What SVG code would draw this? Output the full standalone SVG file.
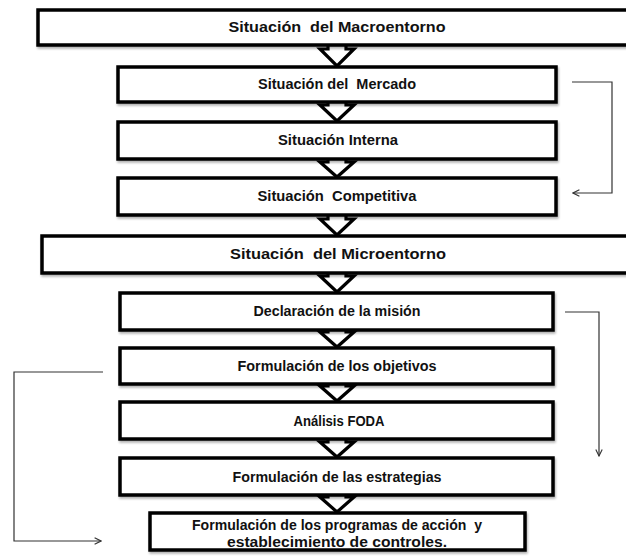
<svg xmlns="http://www.w3.org/2000/svg" width="626" height="558" viewBox="0 0 626 558">
<style>
.box{fill:#fff;stroke:#000;stroke-width:3.5}
.blk{fill:#fff;stroke:#000;stroke-width:3.2;stroke-linejoin:miter}
.t{font-family:"Liberation Sans",Arial,sans-serif;font-weight:bold;fill:#111;text-anchor:middle;white-space:pre}
.conn{fill:none;stroke:#333;stroke-width:1.2}
</style>
<defs>
<marker id="open" viewBox="0 0 10 10" refX="9" refY="5" markerWidth="8" markerHeight="8" orient="auto" markerUnits="userSpaceOnUse">
<path d="M1,1 L9,5 L1,9" fill="none" stroke="#333" stroke-width="1.4"/>
</marker>
<filter id="sh" x="-5%" y="-20%" width="110%" height="150%">
<feDropShadow dx="1" dy="2" stdDeviation="1" flood-color="#000" flood-opacity="0.3"/>
</filter>
</defs>
<rect width="626" height="558" fill="#fff"/>
<g id="flow-arrows">
<path class="blk" d="M328,40 V49 H320 L337,66 L354,49 H346 V40 Z"/>
<path class="blk" d="M328,97 V105 H320 L337,121 L354,105 H346 V97 Z"/>
<path class="blk" d="M328,155 V162 H320 L337,177 L354,162 H346 V155 Z"/>
<path class="blk" d="M328,211 V219 H320 L337,235 L354,219 H346 V211 Z"/>
<path class="blk" d="M328,268 V276 H320 L337,292 L354,276 H346 V268 Z"/>
<path class="blk" d="M328,325 V332 H320 L337,347 L354,332 H346 V325 Z"/>
<path class="blk" d="M328,379 V386 H320 L337,401 L354,386 H346 V379 Z"/>
<path class="blk" d="M328,435 V442 H320 L337,457 L354,442 H346 V435 Z"/>
<path class="blk" d="M328,490 V497 H320 L337,512 L354,497 H346 V490 Z"/>
</g>
<g id="n1"><rect class="box" x="38" y="10" width="600" height="35" filter="url(#sh)"/><text class="t" x="337" y="32" font-size="15.5" textLength="217" lengthAdjust="spacingAndGlyphs" xml:space="preserve">Situación  del Macroentorno</text></g>
<g id="n2"><rect class="box" x="118" y="67" width="438" height="35" filter="url(#sh)"/><text class="t" x="337" y="89" font-size="14" textLength="158" lengthAdjust="spacingAndGlyphs" xml:space="preserve">Situación del  Mercado</text></g>
<g id="n3"><rect class="box" x="118" y="122" width="438" height="37" filter="url(#sh)"/><text class="t" x="338" y="145" font-size="14" textLength="120" lengthAdjust="spacingAndGlyphs">Situación Interna</text></g>
<g id="n4"><rect class="box" x="118" y="178" width="438" height="37" filter="url(#sh)"/><text class="t" x="337" y="201" font-size="14" textLength="159" lengthAdjust="spacingAndGlyphs" xml:space="preserve">Situación  Competitiva</text></g>
<g id="n5"><rect class="box" x="42" y="236" width="600" height="37" filter="url(#sh)"/><text class="t" x="338" y="259" font-size="15.5" textLength="216" lengthAdjust="spacingAndGlyphs" xml:space="preserve">Situación  del Microentorno</text></g>
<g id="n6"><rect class="box" x="120" y="293" width="433" height="37" filter="url(#sh)"/><text class="t" x="337" y="316" font-size="14" textLength="167" lengthAdjust="spacingAndGlyphs">Declaración de la misión</text></g>
<g id="n7"><rect class="box" x="120" y="348" width="433" height="36" filter="url(#sh)"/><text class="t" x="337" y="371" font-size="14" textLength="199" lengthAdjust="spacingAndGlyphs">Formulación de los objetivos</text></g>
<g id="n8"><rect class="box" x="120" y="402" width="433" height="37" filter="url(#sh)"/><text class="t" x="339" y="426" font-size="14" textLength="91" lengthAdjust="spacingAndGlyphs">Análisis FODA</text></g>
<g id="n9"><rect class="box" x="120" y="458" width="433" height="37" filter="url(#sh)"/><text class="t" x="337" y="482" font-size="14" textLength="209" lengthAdjust="spacingAndGlyphs">Formulación de las estrategias</text></g>
<g id="n10"><rect class="box" x="150" y="513" width="375" height="37" filter="url(#sh)"/><text class="t" x="337" y="530" font-size="14" textLength="290" lengthAdjust="spacingAndGlyphs" xml:space="preserve">Formulación de los programas de acción  y</text><text class="t" x="337" y="547" font-size="14" textLength="220" lengthAdjust="spacingAndGlyphs">establecimiento de controles.</text></g>
<g id="connectors">
<path class="conn" d="M572,82 H612 V193 H573" marker-end="url(#open)"/>
<path class="conn" d="M565,312 H599 V456" marker-end="url(#open)"/>
<path class="conn" d="M103,372 H14 V541 H101" marker-end="url(#open)"/>
</g>
</svg>
